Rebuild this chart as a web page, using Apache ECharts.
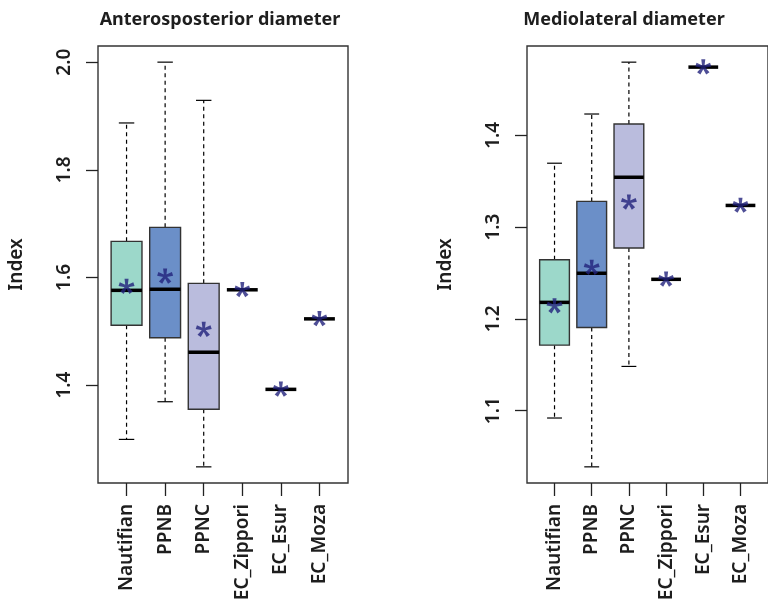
<!DOCTYPE html>
<html>
<head>
<meta charset="utf-8">
<script src="https://cdn.jsdelivr.net/npm/echarts@6/dist/echarts.min.js"></script>
<style>html,body{margin:0;padding:0;background:#fff;}#c{width:768px;height:605px;}</style>
</head>
<body>
<div id="c"></div>
<script>
// ---- data ----
const categories = ['Nautifian', 'PPNB', 'PPNC', 'EC_Zippori', 'EC_Esur', 'EC_Moza'];
// [min, q1, median, q3, max]
const apStats = [
  [1.299, 1.511, 1.576, 1.667, 1.887],
  [1.369, 1.488, 1.578, 1.693, 2.000],
  [1.248, 1.355, 1.461, 1.589, 1.929],
  [1.577, 1.577, 1.577, 1.577, 1.577],
  [1.392, 1.392, 1.392, 1.392, 1.392],
  [1.523, 1.523, 1.523, 1.523, 1.523]
];
const apMeans = [1.583, 1.602, 1.503, 1.577, 1.392, 1.523];
const mlStats = [
  [1.092, 1.1714, 1.218, 1.2645, 1.3696],
  [1.0388, 1.1906, 1.2497, 1.328, 1.4232],
  [1.1482, 1.2772, 1.3543, 1.4123, 1.4797],
  [1.2431, 1.2431, 1.2431, 1.2431, 1.2431],
  [1.4743, 1.4743, 1.4743, 1.4743, 1.4743],
  [1.3236, 1.3236, 1.3236, 1.3236, 1.3236]
];
const mlMeans = [1.214, 1.256, 1.327, 1.2431, 1.4743, 1.3236];
const apTicks = [1.4, 1.6, 1.8, 2.0];
const mlTicks = [1.1, 1.2, 1.3, 1.4];
const titles = ['Anterosposterior diameter', 'Mediolateral diameter'];
const yName = 'Index';

// ---- style ----
const boxColors = ['#9cd8ca', '#6b8fc8', '#babcdd', '#ffffff', '#ffffff', '#ffffff'];
const starColor = '#22227c';
const FONT = 'Noto Sans';
const TXT = '#1e1e1e';

// asterisk path (5 arms), plus a tiny dot to keep the bbox centred
function starPath() {
  let d = '';
  const L = 1, w1 = 0.52, w0 = 0.28;
  for (let i = 0; i < 5; i++) {
    const a = (-90 + i * 72) * Math.PI / 180;
    const dx = Math.cos(a), dy = Math.sin(a);
    const px = -dy, py = dx;
    const pts = [
      [px * w0 / 2, py * w0 / 2],
      [dx * L + px * w1 / 2, dy * L + py * w1 / 2],
      [dx * L - px * w1 / 2, dy * L - py * w1 / 2],
      [-px * w0 / 2, -py * w0 / 2]
    ];
    d += 'M' + pts.map(p => (p[0] * 50 + 60).toFixed(2) + ' ' + (p[1] * 50 + 60).toFixed(2)).join('L') + 'Z';
  }
  d += 'M60 110.5L60.2 110.5L60.1 110.3Z';
  return 'path://' + d;
}
const STAR = starPath();

function boxRender(params, api) {
  const x = api.value(0);
  const mn = api.value(1), q1 = api.value(2), md = api.value(3), q3 = api.value(4), mx = api.value(5);
  const half = api.size([0.4, 0])[0];
  const cx = api.coord([x, md])[0];
  const yMin = api.coord([x, mn])[1], yQ1 = api.coord([x, q1])[1], yMd = api.coord([x, md])[1];
  const yQ3 = api.coord([x, q3])[1], yMax = api.coord([x, mx])[1];
  const color = boxColors[params.dataIndex];
  const ch = [];
  const dash = {stroke: '#000', lineWidth: 1.2, lineDash: [4, 3.5]};
  const solid = {stroke: '#000', lineWidth: 1.2};
  if (yMax < yQ3) {
    ch.push({type: 'line', shape: {x1: cx, y1: yQ3, x2: cx, y2: yMax}, style: dash});
    ch.push({type: 'line', shape: {x1: cx - half / 2, y1: yMax, x2: cx + half / 2, y2: yMax}, style: solid});
  }
  if (yMin > yQ1) {
    ch.push({type: 'line', shape: {x1: cx, y1: yQ1, x2: cx, y2: yMin}, style: dash});
    ch.push({type: 'line', shape: {x1: cx - half / 2, y1: yMin, x2: cx + half / 2, y2: yMin}, style: solid});
  }
  if (yQ1 > yQ3) {
    ch.push({type: 'rect', shape: {x: cx - half, y: yQ3, width: 2 * half, height: yQ1 - yQ3},
      style: {fill: color, stroke: '#333', lineWidth: 1.4}});
  }
  ch.push({type: 'line', shape: {x1: cx - half, y1: yMd, x2: cx + half, y2: yMd}, style: {stroke: '#000', lineWidth: 3.5}});
  return {type: 'group', children: ch};
}

const grids = [
  {left: 98, top: 46, width: 250, height: 437},
  {left: 527, top: 46, width: 250, height: 437}
];
const yRanges = [[1.218, 2.030], [1.0212, 1.4973]];
const yTicks = [apTicks, mlTicks];
const stats = [apStats, mlStats];
const means = [apMeans, mlMeans];
const catIdx = categories.map((c, i) => i + 1);

const option = {
  animation: false,
  backgroundColor: '#fff',
  title: [
    {text: titles[0], left: 215, top: 6, textAlign: 'center',
      textStyle: {fontFamily: FONT, fontSize: 18, fontWeight: 'bold', color: TXT}},
    {text: titles[1], left: 619, top: 6, textAlign: 'center',
      textStyle: {fontFamily: FONT, fontSize: 18, fontWeight: 'bold', color: TXT}}
  ],
  grid: grids.map(g => Object.assign({show: true, borderColor: '#333', borderWidth: 1.4, backgroundColor: 'transparent'}, g)),
  xAxis: [0, 1].map(i => ({
    type: 'value', gridIndex: i, min: 0.26, max: 6.74,
    splitLine: {show: false},
    axisLine: {show: false},
    axisTick: {show: true, length: 13, inside: false, customValues: catIdx, lineStyle: {color: '#222', width: 1.3}},
    axisLabel: {show: true, rotate: 90, margin: 21, customValues: catIdx,
      formatter: v => categories[Math.round(v) - 1] || '',
      fontFamily: FONT, fontSize: 19, fontWeight: 600, color: TXT}
  })),
  yAxis: [0, 1].map(i => ({
    type: 'value', gridIndex: i, min: yRanges[i][0], max: yRanges[i][1],
    splitLine: {show: false},
    axisLine: {show: false},
    name: yName, nameLocation: 'middle', nameGap: 72, nameRotate: 90,
    nameTextStyle: {fontFamily: FONT, fontSize: 19, fontWeight: 600, color: TXT},
    axisTick: {show: true, length: 12, inside: false, customValues: yTicks[i], lineStyle: {color: '#222', width: 1.3}},
    axisLabel: {show: true, rotate: 90, margin: 24, customValues: yTicks[i],
      formatter: v => v.toFixed(1), fontFamily: FONT, fontSize: 19, fontWeight: 600, color: TXT}
  })),
  series: [
    ...[0, 1].map(i => ({
      type: 'custom', xAxisIndex: i, yAxisIndex: i,
      renderItem: boxRender,
      data: stats[i].map((s, k) => [k + 1].concat(s)),
      clip: false
    })),
    ...[0, 1].map(i => ({
      type: 'scatter', xAxisIndex: i, yAxisIndex: i,
      symbol: STAR, symbolSize: 16, symbolKeepAspect: true,
      itemStyle: {color: starColor},
      data: means[i].map((m, k) => [k + 1, m]),
      z: 5
    }))
  ]
};
const chart = echarts.init(document.getElementById('c'), null, {renderer: 'canvas'});
chart.setOption(option);
</script>
</body>
</html>
